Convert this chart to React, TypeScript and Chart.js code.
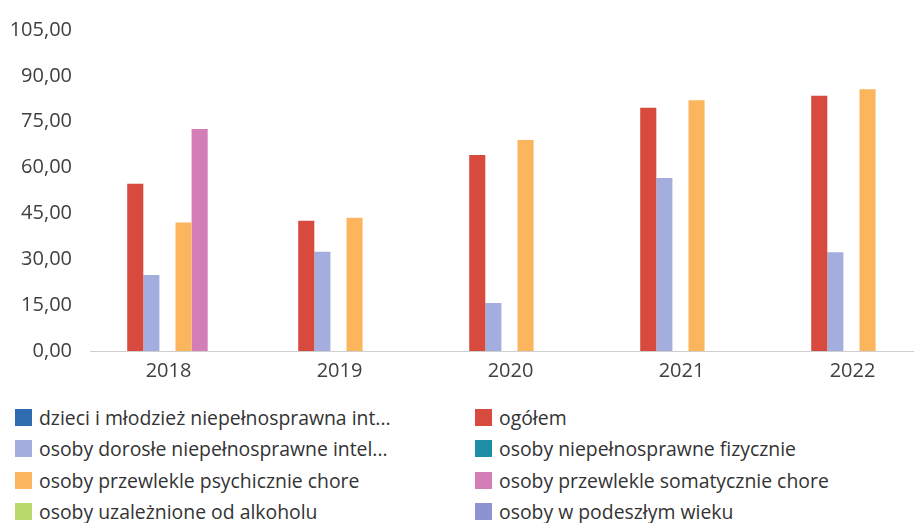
import React, { useEffect, useRef } from 'react';
import { Chart, registerables } from 'chart.js';

Chart.register(...registerables);

const years = ['2018', '2019', '2020', '2021', '2022'];

const seriesNames = [
  'dzieci i młodzież niepełnosprawna int...',
  'ogółem',
  'osoby dorosłe niepełnosprawne intel...',
  'osoby niepełnosprawne fizycznie',
  'osoby przewlekle psychicznie chore',
  'osoby przewlekle somatycznie chore',
  'osoby uzależnione od alkoholu',
  'osoby w podeszłym wieku',
];

const dzieci = [0, 0, 0, 0, 0];
const ogolem = [54.7, 42.6, 64.1, 79.6, 83.5];
const dorosle = [24.9, 32.5, 15.7, 56.6, 32.3];
const fizycznie = [0, 0, 0, 0, 0];
const psychicznie = [42.0, 43.6, 69.0, 82.0, 85.6];
const somatycznie = [72.6, 0, 0, 0, 0];
const uzaleznione = [0, 0, 0, 0, 0];
const podeszly = [0, 0, 0, 0, 0];

const yTicks = [0, 15, 30, 45, 60, 75, 90, 105];

const colors = ['#2f6db0', '#d84a3e', '#a3aedf', '#1d8ea6', '#fbb55c', '#d47db6', '#b8d96c', '#8f92d2'];

const seriesData = [dzieci, ogolem, dorosle, fizycznie, psychicznie, somatycznie, uzaleznione, podeszly];

const FONT = '"Open Sans", "Noto Sans", sans-serif';

export default function App() {
  const ref = useRef<HTMLCanvasElement | null>(null);

  useEffect(() => {
    if (!ref.current) return;
    const chart = new Chart(ref.current, {
      type: 'bar',
      data: {
        labels: years,
        datasets: seriesNames.map((name, i) => ({
          label: name,
          data: seriesData[i],
          backgroundColor: colors[i],
          borderWidth: 0,
          categoryPercentage: 0.753,
          barPercentage: 1.0,
        })),
      },
      options: {
        responsive: false,
        animation: false,
        layout: { padding: { left: 0, right: 15, top: 13, bottom: 8 } },
        plugins: { legend: { display: false }, tooltip: { enabled: false } },
        scales: {
          x: {
            grid: { display: false, drawTicks: false },
            border: { display: true, color: '#cfcfcf', width: 1 },
            ticks: {
              color: '#404040',
              font: { family: FONT, size: 20 },
              padding: 8,
              labelOffset: -7,
            },
          },
          y: {
            min: yTicks[0],
            max: yTicks[yTicks.length - 1],
            afterBuildTicks: (axis: any) => {
              axis.ticks = yTicks.map((v) => ({ value: v }));
            },
            afterFit: (axis: any) => {
              axis.width = 90;
            },
            grid: { display: false, drawTicks: false },
            border: { display: false },
            ticks: {
              color: '#404040',
              font: { family: FONT, size: 20 },
              padding: 18,
              callback: (v: any) => Number(v).toFixed(2).replace('.', ','),
            },
          },
        },
      },
    });
    return () => chart.destroy();
  }, []);

  return (
    <div
      style={{
        position: 'fixed',
        left: 0,
        top: 0,
        width: '100vw',
        height: '100vh',
        overflow: 'hidden',
        background: '#fff',
        fontFamily: FONT,
      }}
    >
      <canvas ref={ref} width={960} height={399} style={{ position: 'absolute', left: 0, top: 0 }} />
      {seriesNames.map((name, i) => {
        const col = i % 2;
        const row = Math.floor(i / 2);
        return (
          <div
            key={name}
            style={{
              position: 'absolute',
              left: col === 0 ? 15 : 475,
              top: 402 + row * 31.3,
              height: 31,
              display: 'flex',
              alignItems: 'center',
              whiteSpace: 'nowrap',
              fontSize: 19.4,
              color: '#333',
            }}
          >
            <span style={{ display: 'inline-block', width: 17, height: 17, background: colors[i], marginRight: 7 }} />
            <span>{name}</span>
          </div>
        );
      })}
    </div>
  );
}
